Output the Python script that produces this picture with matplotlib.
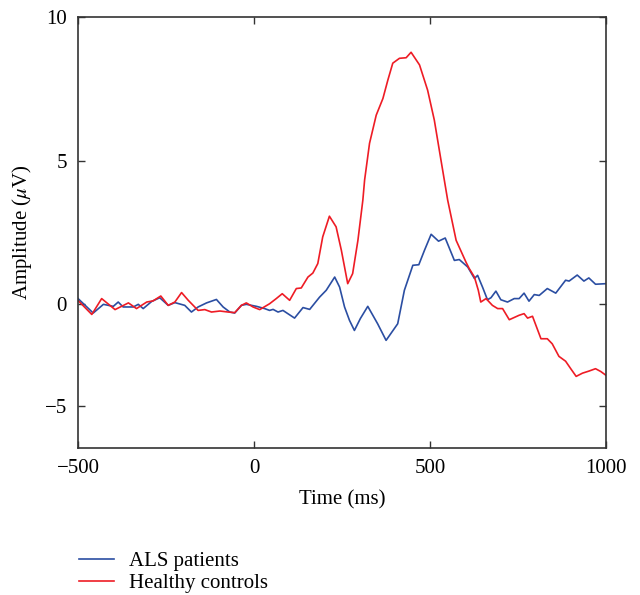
import numpy as np
import matplotlib
matplotlib.use("Agg")
import matplotlib.pyplot as plt

plt.rcParams['font.family'] = ['Liberation Serif', 'DejaVu Serif']
plt.rcParams['mathtext.fontset'] = 'stix'

# ERP grand averages (time in ms, amplitude in uV)
als_time = [-500, -457, -428, -400, -386, -372, -343, -329, -315, -291, -268, -244,
            -225, -197, -178, -159, -135, -107, -88, -69, -55, -36, -22, 7, 30,
            44, 54, 68, 82, 115, 139, 158, 186, 205, 229, 243, 257, 271, 285, 302,
            323, 351, 375, 408, 427, 451, 468, 484, 503, 524, 543, 569, 583, 607,
            626, 635, 649, 663, 673, 687, 701, 720, 739, 753, 767, 781, 796, 810,
            833, 857, 885, 895, 918, 937, 951, 970, 1000]
als_amp = [0.20, -0.43, 0.00, -0.10, 0.08, -0.13, -0.13, 0.00, -0.21, 0.10, 0.23, -0.05,
           0.06, -0.05, -0.38, -0.13, 0.05, 0.17, -0.13, -0.38, -0.43, -0.05, 0.00, -0.10, -0.21,
           -0.30, -0.25, -0.38, -0.30, -0.68, -0.16, -0.25, 0.25, 0.49, 0.95, 0.60, -0.13, -0.79, -1.29, -0.70,
           -0.10, -0.96, -1.78, -0.96, 0.49, 1.36, 1.38, 1.88, 2.44, 2.20, 2.31, 1.53, 1.56, 1.30,
           0.90, 1.01, 0.60, 0.16, 0.23, 0.46, 0.16, 0.08, 0.20, 0.20, 0.39, 0.11, 0.34, 0.31,
           0.55, 0.39, 0.84, 0.81, 1.02, 0.81, 0.92, 0.70, 0.72]

hc_time = [-499, -461, -433, -395, -357, -334, -305, -287, -265, -244, -225, -206, -187,
           -159, -140, -121, -97, -74, -55, -36, -22, -3, 16, 44, 63, 80, 101, 120, 134,
           153, 167, 181, 195, 214, 233, 248, 266, 280, 295, 309, 314, 328, 347, 366, 380,
           394, 413, 432, 446, 470, 493, 512, 531, 550, 574, 602, 611, 626, 637, 644, 659,
           677, 692, 706, 725, 753, 767, 777, 791, 815, 833, 847, 866, 885, 900, 915, 933,
           951, 970, 985, 1000]
hc_amp = [0.12, -0.50, 0.20, -0.26, 0.05, -0.21, 0.08, 0.12, 0.29, -0.05, 0.08, 0.41, 0.14,
          -0.30, -0.26, -0.38, -0.33, -0.38, -0.41, -0.05, 0.05, -0.13, -0.26, 0.02, 0.20, 0.37, 0.14, 0.55, 0.57,
          0.95, 1.09, 1.42, 2.35, 3.07, 2.70, 1.88, 0.72, 1.07, 2.23, 3.63, 4.33, 5.61, 6.59, 7.17, 7.81,
          8.40, 8.57, 8.59, 8.78, 8.34, 7.46, 6.42, 5.02, 3.63, 2.23, 1.47, 1.25, 0.95, 0.49, 0.08, 0.20,
          -0.05, -0.21, -0.21, -0.76, -0.54, -0.46, -0.68, -0.59, -1.70, -1.70, -1.95, -2.57, -2.81, -3.19, -3.56, -3.40,
          -3.30, -3.18, -3.32, -3.51]

xticks = [-500, 0, 500, 1000]
yticks = [-5, 0, 5, 10]

# the original axis is compressed below zero
k = 0.705


def fwd(y):
    y = np.asarray(y, dtype=float)
    return np.where(y >= 0, y, y * k)


def inv(y):
    y = np.asarray(y, dtype=float)
    return np.where(y >= 0, y, y / k)


fs = 15

fig = plt.figure(figsize=(6.4, 5.95), dpi=100)
ax = fig.add_axes([0.122, 0.247, 0.825, 0.724])

ax.plot(als_time, als_amp, color='#2b4ea2', lw=1.2, label='ALS patients')
ax.plot(hc_time, hc_amp, color='#ee1c25', lw=1.2, label='Healthy controls')

ax.set_yscale('function', functions=(fwd, inv))
ax.set_xlim(-500, 1000)
ax.set_ylim(-7.1, 10)
ax.set_xticks(xticks)
ax.set_yticks(yticks)
ax.tick_params(direction='in', length=5, width=1.0, top=True, right=True,
               labelsize=fs, color='#333333', pad=8)
for s in ax.spines.values():
    s.set_color('#333333')
    s.set_linewidth(1.2)

ax.set_xlabel('Time (ms)', fontsize=fs, labelpad=9)
ax.set_ylabel(r'Amplitude ($\mu$V)', fontsize=fs, labelpad=8)

fig.legend(loc='upper left', bbox_to_anchor=(0.124, 0.073), bbox_transform=fig.transFigure,
           frameon=False, fontsize=fs, handlelength=1.68, handletextpad=0.69,
           labelspacing=0.1, borderaxespad=0, borderpad=0)

fig.savefig('out.png', dpi=100)
